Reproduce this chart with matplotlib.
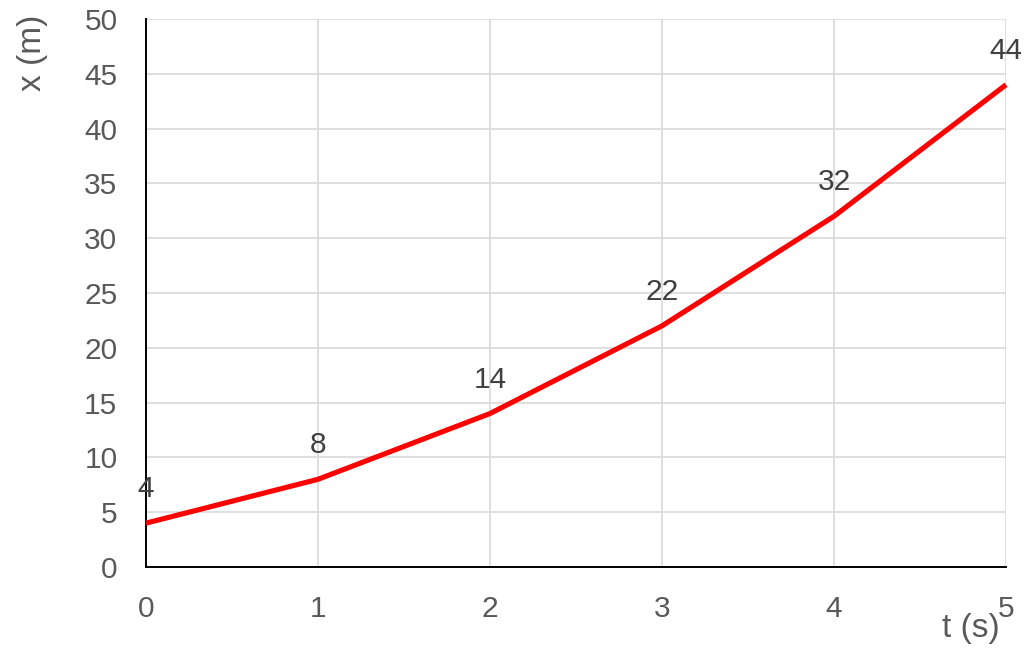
import matplotlib.pyplot as plt

plt.rcParams["font.family"] = ["Liberation Sans", "DejaVu Sans"]

# Posição em função do tempo
t_values = [0, 1, 2, 3, 4, 5]
x_values = [4, 8, 14, 22, 32, 44]
y_ticks = [0, 5, 10, 15, 20, 25, 30, 35, 40, 45, 50]


def main():
    fig = plt.figure(figsize=(10.3, 6.5), dpi=100)
    ax = fig.add_axes([0.1417, 0.1277, 0.8350, 0.8431])

    ax.plot(t_values, x_values, color="#ff0000", linewidth=3.7,
            solid_capstyle="butt", zorder=3, clip_on=False)

    # Rótulos de valor acima de cada ponto
    for t, x in zip(t_values, x_values):
        ax.annotate(str(x), (t, x), xytext=(0, 34), textcoords="offset pixels",
                    ha="center", va="center", fontsize=21.5, color="#404040")

    ax.set_xlim(0, 5)
    ax.set_ylim(0, 50)
    ax.set_xticks(t_values)
    ax.set_yticks(y_ticks)
    ax.grid(True, color="#d9d9d9", linewidth=1.2)
    ax.set_axisbelow(True)

    for side in ["top", "right"]:
        ax.spines[side].set_visible(False)
    for side in ["left", "bottom"]:
        ax.spines[side].set_color("black")
        ax.spines[side].set_linewidth(1.4)

    ax.tick_params(length=0, labelsize=21.5, labelcolor="#595959")
    ax.tick_params(axis="x", pad=20)
    ax.tick_params(axis="y", pad=20.5)

    fig.text(32 / 1030, 1 - 53 / 650, "x (m)", rotation=90, ha="center",
             va="center", fontsize=24, color="#595959")
    fig.text(971 / 1030, 1 - 629 / 650, "t (s)", ha="center", va="center",
             fontsize=24, color="#595959")

    fig.savefig("out.png", dpi=100)
    plt.close(fig)


if __name__ == "__main__":
    main()
